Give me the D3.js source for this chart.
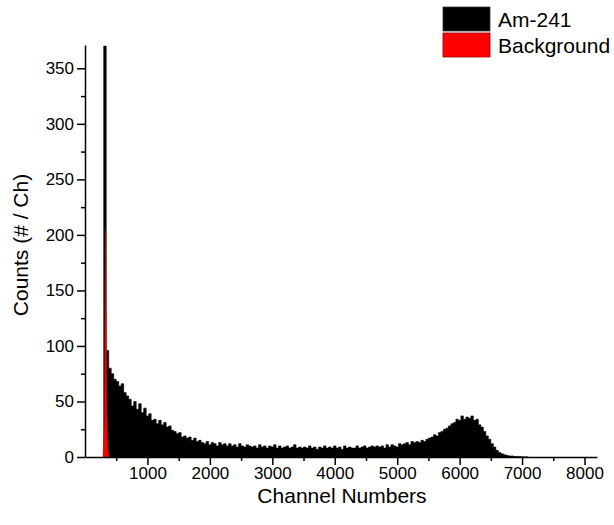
<!DOCTYPE html>
<html>
<head>
<meta charset="utf-8">
<script src="https://cdn.jsdelivr.net/npm/d3@7"></script>
<style>
  body { margin: 0; background: #fff; }
  text { font-family: Arial, "Liberation Sans", sans-serif; fill: #000; }
</style>
</head>
<body>
<div id="graph"></div>
<script>
var width = 614, height = 525

// Am-241 spectrum, 40-channel bins starting at channel 300
var binStart = 300, binWidth = 40
var amCounts = [
  370, 96, 80, 75, 70, 68, 64, 66, 58, 55,    // 300-660
  52, 46, 50, 43, 48, 40, 44, 37, 39, 33,     // 700-1060
  34, 30, 33, 29, 31, 27, 28, 24, 23, 21,     // 1100-1460
  22, 18, 19, 17, 18, 15, 17, 14, 15, 13,     // 1500-1860
  12, 14, 11, 13, 12, 10, 13, 11, 12, 10,     // 1900-2260
  12, 10, 11, 9, 12, 10, 9, 11, 10, 9,        // 2300-2660
  10, 8, 11, 9, 10, 8, 10, 9, 11, 8,          // 2700-3060
  10, 8, 9, 10, 8, 9, 11, 8, 9, 8,            // 3100-3460
  9, 8, 10, 8, 9, 7, 9, 8, 10, 8,             // 3500-3860
  9, 8, 10, 8, 9, 7, 10, 8, 9, 8,             // 3900-4260
  8, 10, 8, 9, 10, 8, 9, 10, 9, 10,           // 4300-4660
  9, 10, 8, 11, 9, 11, 10, 9, 12, 11,         // 4700-5060
  12, 13, 11, 14, 13, 14, 13, 15, 14, 16,     // 5100-5460
  17, 18, 20, 19, 22, 23, 25, 26, 28, 30,     // 5500-5860
  31, 34, 33, 37, 34, 36, 35, 37, 33, 34,     // 5900-6260
  29, 27, 23, 19, 16, 12, 9, 6, 4, 3,         // 6300-6660
  2, 1.5, 1, 1, 0.5, 0.5, 0.3, 0.2, 0, 0      // 6700-7060
]

// background run, only a narrow spike near the noise edge
var bgChannels = [290, 310, 330, 350, 370, 390]
var bgCounts   = [0, 30, 205, 40, 5, 0]

var xMajor = [1000, 2000, 3000, 4000, 5000, 6000, 7000, 8000]
var xMinor = [500, 1500, 2500, 3500, 4500, 5500, 6500, 7500]
var yMajor = [0, 50, 100, 150, 200, 250, 300, 350]
var yMinor = [25, 75, 125, 175, 225, 275, 325]

var legendNames = ['Am-241', 'Background']
var legendColors = ['#000', '#f00']

var amData = amCounts.map(function(c, i){ return [binStart + i*binWidth, c] })
amData.push([binStart + amCounts.length*binWidth, 0])
var bgData = bgChannels.map(function(c, i){ return [c, bgCounts[i]] })

var svg = d3.select('#graph').append('svg')
    .attr('width', width).attr('height', height)

var x = d3.scaleLinear().domain([0, 8200]).range([85, 597])
var y = d3.scaleLinear().domain([0, 371]).range([457, 45])

var stepArea = d3.area()
    .curve(d3.curveStepAfter)
    .x(function(d){ return x(d[0]) })
    .y0(y(0))
    .y1(function(d){ return y(d[1]) })

svg.append('path')
    .datum(amData)
    .attr('d', stepArea)
    .attr('fill', '#000')
    .attr('stroke', '#000')
    .attr('stroke-width', 0.6)

var lineArea = d3.area()
    .x(function(d){ return x(d[0]) })
    .y0(y(0))
    .y1(function(d){ return y(d[1]) })

svg.append('path')
    .datum(bgData)
    .attr('d', lineArea)
    .attr('fill', '#f00')
    .attr('stroke', '#c00')
    .attr('stroke-width', 0.5)

function styleAxis(g){
  g.attr('font-size', 17).attr('font-family', 'Arial, "Liberation Sans", sans-serif')
  g.selectAll('path, line').attr('stroke', '#000').attr('stroke-width', 1.5)
}

var fmt = d3.format('d')

// minor ticks first, then major with labels
svg.append('g')
    .attr('transform', 'translate(0,' + y(0) + ')')
    .call(d3.axisBottom(x).tickValues(xMinor).tickSize(4).tickFormat(''))
    .call(styleAxis)
    .call(function(g){ g.select('.domain').remove() })

svg.append('g')
    .attr('transform', 'translate(0,' + y(0) + ')')
    .call(d3.axisBottom(x).tickValues(xMajor).tickSize(8).tickSizeOuter(0).tickPadding(2).tickFormat(fmt))
    .call(styleAxis)

svg.append('g')
    .attr('transform', 'translate(' + x(0) + ',0)')
    .call(d3.axisLeft(y).tickValues(yMinor).tickSize(4).tickFormat(''))
    .call(styleAxis)
    .call(function(g){ g.select('.domain').remove() })

svg.append('g')
    .attr('transform', 'translate(' + x(0) + ',0)')
    .call(d3.axisLeft(y).tickValues(yMajor).tickSize(8).tickSizeOuter(0).tickPadding(3).tickFormat(fmt))
    .call(styleAxis)

svg.append('text')
    .attr('x', 342).attr('y', 503)
    .attr('text-anchor', 'middle')
    .attr('font-size', 21)
    .text('Channel Numbers')

svg.append('text')
    .attr('transform', 'translate(28,245) rotate(-90)')
    .attr('text-anchor', 'middle')
    .attr('font-size', 21)
    .text('Counts (# / Ch)')

var legend = svg.append('g').attr('transform', 'translate(443,7)')
legendNames.forEach(function(name, i){
  legend.append('rect')
      .attr('x', 0).attr('y', i*26)
      .attr('width', 47).attr('height', 24)
      .attr('fill', legendColors[i])
      .attr('stroke', i ? '#900' : '#333')
      .attr('stroke-width', 0.8)
  legend.append('text')
      .attr('x', 55).attr('y', i*26 + 12)
      .attr('dy', '0.36em')
      .attr('font-size', 21)
      .text(name)
})
</script>
</body>
</html>
